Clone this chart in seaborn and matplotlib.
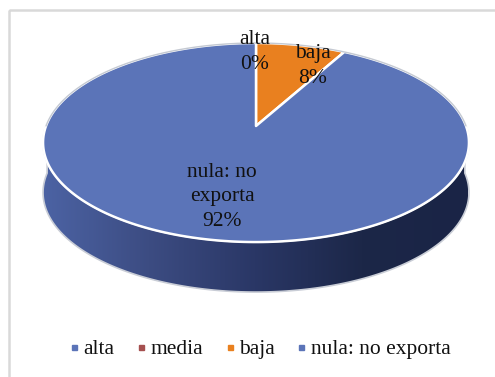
import numpy as np
import matplotlib
matplotlib.use('Agg')
import matplotlib.pyplot as plt
from matplotlib.lines import Line2D
from matplotlib.patches import Polygon, Rectangle
import seaborn as sns

categories = ['alta', 'media', 'baja', 'nula: no exporta']
values = [0, 0, 8, 92]
colors = ['#5b74b8', '#a5504f', '#e9801f', '#5b74b8']

sns.set_theme(style='white')
plt.rcParams['font.family'] = ['Liberation Serif', 'DejaVu Serif']


def project(theta, drop=0):
    # tilted circle seen in perspective, so the pie centre sits above the ellipse centre
    u, v = np.sin(theta), np.cos(theta)
    den = 1 + 0.166 * v
    return np.column_stack([256 + 210 * u / den, 126 - 96.8 * v / den + drop])


fig, ax = plt.subplots(figsize=(4.95, 3.77), dpi=100)
ax.set_position([0, 0, 1, 1])
ax.set_xlim(0, 495)
ax.set_ylim(377, 0)
ax.axis('off')

# chart frame, only its top and left edges fall inside the picture
ax.add_patch(Rectangle((9, 10), 520, 400, fill=False, ec='#d9d9d9', lw=1.8))

# side wall with a left-to-right shading
depth = 50
ring = np.linspace(np.pi / 2 - 0.03, 3 * np.pi / 2 + 0.03, 200)
wall = np.vstack([project(ring), project(ring[::-1], depth)])
wall_patch = Polygon(wall, closed=True, fc='none', ec='#c9cdd6', lw=1.2, zorder=2)
ax.add_patch(wall_patch)
shade = sns.blend_palette(['#1a2446', '#1c2748', '#2a3766', '#3c4c82', '#4c63a4'], 64, as_cmap=True)
im = ax.imshow(np.linspace(0, 1, 256)[None, :], extent=(468, 42, 300, 130), cmap=shade,
               aspect='auto', zorder=1)
im.set_clip_path(wall_patch)
ax.set_xlim(0, 495)
ax.set_ylim(377, 0)

# top face, wedges clockwise from 12 o'clock
shares = np.array(values) / sum(values) * 2 * np.pi
start = 0
for share, color in zip(shares, colors):
    if share > 0:
        arc = project(np.linspace(start, start + share, 300))
        apex = [[256, 126]]
        ax.add_patch(Polygon(np.vstack([apex, arc]), closed=True, fc=color, ec='white',
                             lw=1.8, joinstyle='round', zorder=3))
    start += share

# back rim is greyer than the white front rim
back = project(np.linspace(-np.pi / 2, np.pi / 2, 200))
ax.plot(back[:, 0], back[:, 1], color='#c4c9d2', lw=1.0, zorder=3.5)

# data labels
ax.text(255, 52, 'alta\n0%', ha='center', va='center', fontsize=15.5, linespacing=1.38,
        color='#111111', zorder=4)
ax.text(313, 66, 'baja\n8%', ha='center', va='center', fontsize=15.5, linespacing=1.38,
        color='#111111', zorder=4)
ax.text(222, 197, 'nula: no\nexporta\n92%', ha='center', va='center', fontsize=15.5,
        linespacing=1.38, color='#111111', zorder=4)

handles = [Line2D([], [], ls='none', marker='s', ms=3.6, color=c) for c in colors]
ax.legend(handles, categories, ncol=4, loc='center', bbox_to_anchor=(258 / 495, 1 - 349 / 377),
          frameon=False, fontsize=15.5, handletextpad=0.05, columnspacing=0.82,
          handlelength=0.8, borderpad=0, labelcolor='#111111')

fig.savefig('out.png', dpi=100)
